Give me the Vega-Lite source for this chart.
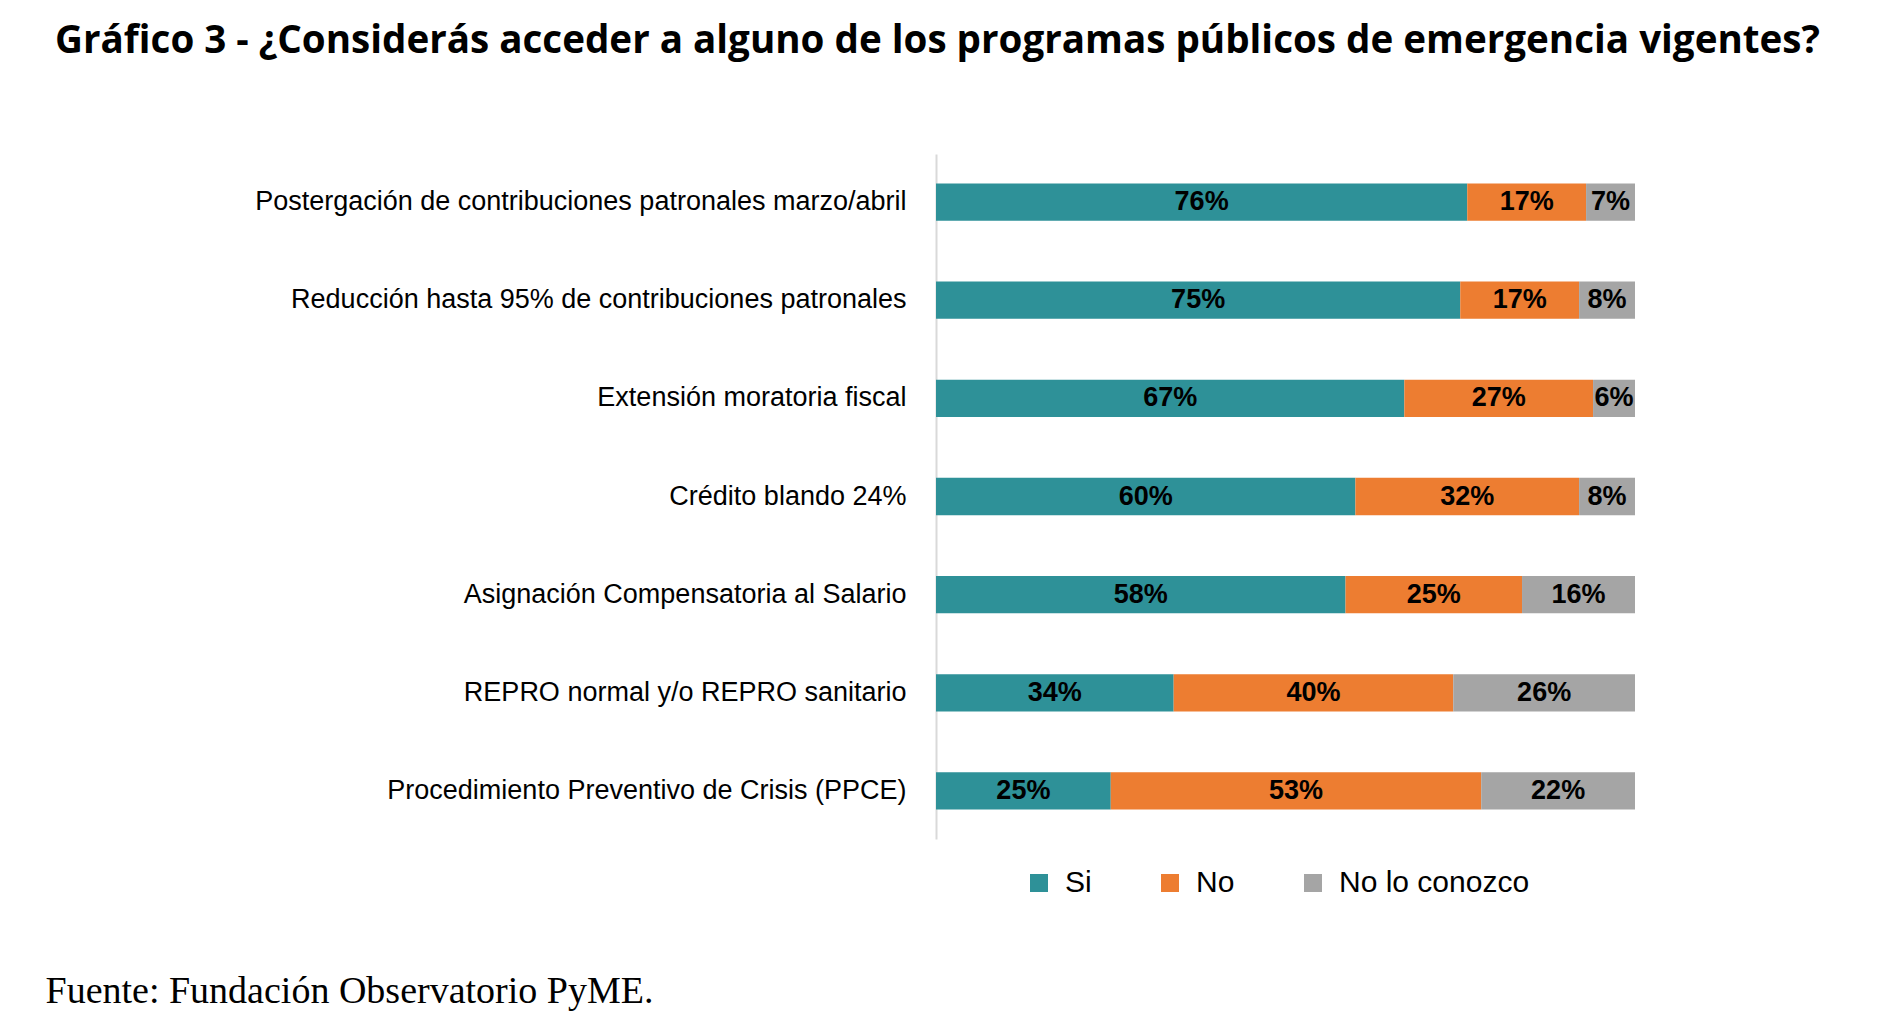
{
  "$schema": "https://vega.github.io/schema/vega-lite/v6.json",
  "autosize": {"type": "none"},
  "width": 699,
  "height": 685,
  "padding": {"left": 936, "top": 154, "right": 264, "bottom": 181},
  "background": "white",
  "title": {
    "text": "Gráfico 3 - ¿Considerás acceder a alguno de los programas públicos de emergencia vigentes?",
    "font": "Open Sans",
    "fontSize": 38.6,
    "fontWeight": "bold",
    "color": "black",
    "anchor": "middle",
    "dx": -348,
    "offset": 92
  },
  "data": {
    "values": [
      {"programa": "Postergación de contribuciones patronales marzo/abril", "respuesta": "Si", "orden": 1, "valor": 0.76},
      {"programa": "Postergación de contribuciones patronales marzo/abril", "respuesta": "No", "orden": 2, "valor": 0.17},
      {"programa": "Postergación de contribuciones patronales marzo/abril", "respuesta": "No lo conozco", "orden": 3, "valor": 0.07},
      {"programa": "Reducción hasta 95% de contribuciones patronales", "respuesta": "Si", "orden": 1, "valor": 0.75},
      {"programa": "Reducción hasta 95% de contribuciones patronales", "respuesta": "No", "orden": 2, "valor": 0.17},
      {"programa": "Reducción hasta 95% de contribuciones patronales", "respuesta": "No lo conozco", "orden": 3, "valor": 0.08},
      {"programa": "Extensión moratoria fiscal", "respuesta": "Si", "orden": 1, "valor": 0.67},
      {"programa": "Extensión moratoria fiscal", "respuesta": "No", "orden": 2, "valor": 0.27},
      {"programa": "Extensión moratoria fiscal", "respuesta": "No lo conozco", "orden": 3, "valor": 0.06},
      {"programa": "Crédito blando 24%", "respuesta": "Si", "orden": 1, "valor": 0.60},
      {"programa": "Crédito blando 24%", "respuesta": "No", "orden": 2, "valor": 0.32},
      {"programa": "Crédito blando 24%", "respuesta": "No lo conozco", "orden": 3, "valor": 0.08},
      {"programa": "Asignación Compensatoria al Salario", "respuesta": "Si", "orden": 1, "valor": 0.58},
      {"programa": "Asignación Compensatoria al Salario", "respuesta": "No", "orden": 2, "valor": 0.25},
      {"programa": "Asignación Compensatoria al Salario", "respuesta": "No lo conozco", "orden": 3, "valor": 0.16},
      {"programa": "REPRO normal y/o REPRO sanitario", "respuesta": "Si", "orden": 1, "valor": 0.34},
      {"programa": "REPRO normal y/o REPRO sanitario", "respuesta": "No", "orden": 2, "valor": 0.40},
      {"programa": "REPRO normal y/o REPRO sanitario", "respuesta": "No lo conozco", "orden": 3, "valor": 0.26},
      {"programa": "Procedimiento Preventivo de Crisis (PPCE)", "respuesta": "Si", "orden": 1, "valor": 0.25},
      {"programa": "Procedimiento Preventivo de Crisis (PPCE)", "respuesta": "No", "orden": 2, "valor": 0.53},
      {"programa": "Procedimiento Preventivo de Crisis (PPCE)", "respuesta": "No lo conozco", "orden": 3, "valor": 0.22}
    ]
  },
  "transform": [
    {
      "stack": "valor",
      "groupby": ["programa"],
      "sort": [{"field": "orden", "order": "ascending"}],
      "offset": "normalize",
      "as": ["x0", "x1"]
    }
  ],
  "encoding": {
    "y": {
      "field": "programa",
      "type": "nominal",
      "sort": [
        "Postergación de contribuciones patronales marzo/abril",
        "Reducción hasta 95% de contribuciones patronales",
        "Extensión moratoria fiscal",
        "Crédito blando 24%",
        "Asignación Compensatoria al Salario",
        "REPRO normal y/o REPRO sanitario",
        "Procedimiento Preventivo de Crisis (PPCE)"
      ],
      "scale": {"paddingInner": 0.62, "paddingOuter": 0.3},
      "axis": {
        "title": null,
        "ticks": false,
        "domain": true,
        "domainColor": "#d9d9d9",
        "domainWidth": 2,
        "labelFont": "Liberation Sans",
        "labelFontSize": 27,
        "labelColor": "black",
        "labelPadding": 30,
        "labelLimit": 1000
      }
    }
  },
  "layer": [
    {
      "mark": {"type": "bar"},
      "encoding": {
        "x": {
          "field": "x0",
          "type": "quantitative",
          "scale": {"domain": [0, 1]},
          "axis": {
            "domain": false,
            "ticks": false,
            "labels": false,
            "grid": false,
            "title": "Fuente: Fundación Observatorio PyME.",
            "titleFont": "Liberation Serif",
            "titleFontSize": 38,
            "titleFontWeight": "normal",
            "titleColor": "black",
            "titleAnchor": "start",
            "titleAlign": "left",
            "titleBaseline": "alphabetic",
            "titleX": -891,
            "titleY": 163
          }
        },
        "x2": {"field": "x1"},
        "color": {
          "field": "respuesta",
          "type": "nominal",
          "scale": {
            "domain": ["Si", "No", "No lo conozco"],
            "range": ["#2e9198", "#ed7d31", "#a5a5a5"]
          },
          "legend": {
            "title": null,
            "orient": "none",
            "direction": "horizontal",
            "columns": 3,
            "legendX": 88,
            "legendY": 714,
            "symbolType": "square",
            "symbolSize": 324,
            "symbolStrokeWidth": 0,
            "labelFont": "Liberation Sans",
            "labelFontSize": 30,
            "labelColor": "black",
            "labelLimit": 1000,
            "labelOffset": 11,
            "columnPadding": 63
          }
        }
      }
    },
    {
      "transform": [
        {"fold": ["x0", "x1"], "as": ["extremo", "pos"]},
        {
          "aggregate": [{"op": "mean", "field": "pos", "as": "medio"}],
          "groupby": ["programa", "respuesta", "valor"]
        }
      ],
      "mark": {
        "type": "text",
        "font": "Liberation Sans",
        "fontSize": 27,
        "fontWeight": "bold",
        "color": "black",
        "baseline": "middle",
        "align": "center"
      },
      "encoding": {
        "x": {
          "field": "medio",
          "type": "quantitative",
          "scale": {"domain": [0, 1]},
          "axis": {
            "domain": false,
            "ticks": false,
            "labels": false,
            "grid": false,
            "title": "Fuente: Fundación Observatorio PyME.",
            "titleFont": "Liberation Serif",
            "titleFontSize": 38,
            "titleFontWeight": "normal",
            "titleColor": "black",
            "titleAnchor": "start",
            "titleAlign": "left",
            "titleBaseline": "alphabetic",
            "titleX": -891,
            "titleY": 163
          }
        },
        "text": {"field": "valor", "type": "quantitative", "format": ".0%"}
      }
    }
  ],
  "config": {"view": {"stroke": null}}
}
